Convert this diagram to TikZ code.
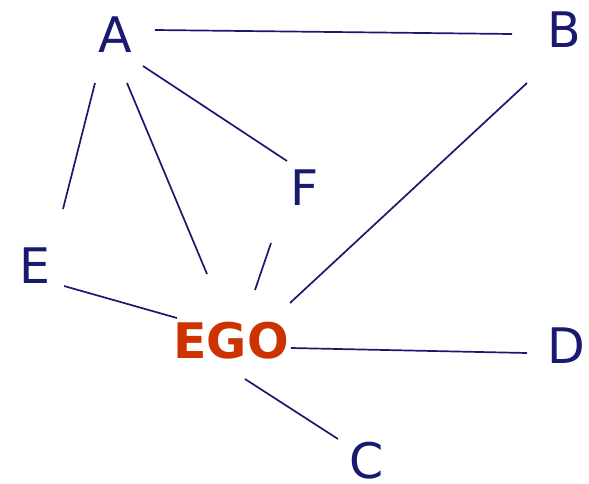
\documentclass[tikz,border=0pt]{standalone}
\usepackage{fontspec}
\setmainfont{DejaVu Sans}
\definecolor{navy}{RGB}{25,25,112}
\definecolor{egored}{RGB}{204,51,0}
\begin{document}
\begin{tikzpicture}[x=1pt,y=-1pt,
  lbl/.style={inner sep=0pt,text=navy,font=\fontsize{49}{50}\selectfont},
  ego/.style={inner sep=0pt,text=egored,font=\fontsize{49}{50}\selectfont\bfseries},
  edge/.style={draw=navy,line width=1.7pt}]
\useasboundingbox (0,0) rectangle (589,483);
\node[lbl] (A) at (115,35) {A};
\node[lbl] (B) at (564,30) {B};
\node[lbl] (F) at (305,188) {F};
\node[lbl] (E) at (35,266) {E};
\node[ego] (EGO) at (231,341) {EGO};
\node[lbl] (D) at (566,346) {D};
\node[lbl] (C) at (367,461) {C};
\draw[edge] ([shift={(40,-5)}]A.center) -- ([shift={(-52,4)}]B.center);
\draw[edge] ([shift={(28,31)}]A.center) -- ([shift={(-18,-27)}]F.center);
\draw[edge] ([shift={(-20,48)}]A.center) -- ([shift={(28,-57)}]E.center);
\draw[edge] ([shift={(12,48)}]A.center) -- ([shift={(-24,-67)}]EGO.center);
\draw[edge] ([shift={(-34,55)}]F.center) -- ([shift={(24,-51)}]EGO.center);
\draw[edge] ([shift={(-37,53)}]B.center) -- ([shift={(59,-38)}]EGO.center);
\draw[edge] ([shift={(29,20)}]E.center) -- ([shift={(-54,-23)}]EGO.center);
\draw[edge] ([shift={(60,7)}]EGO.center) -- ([shift={(-39,7)}]D.center);
\draw[edge] ([shift={(14,38)}]EGO.center) -- ([shift={(-29,-22)}]C.center);
\end{tikzpicture}
\end{document}
